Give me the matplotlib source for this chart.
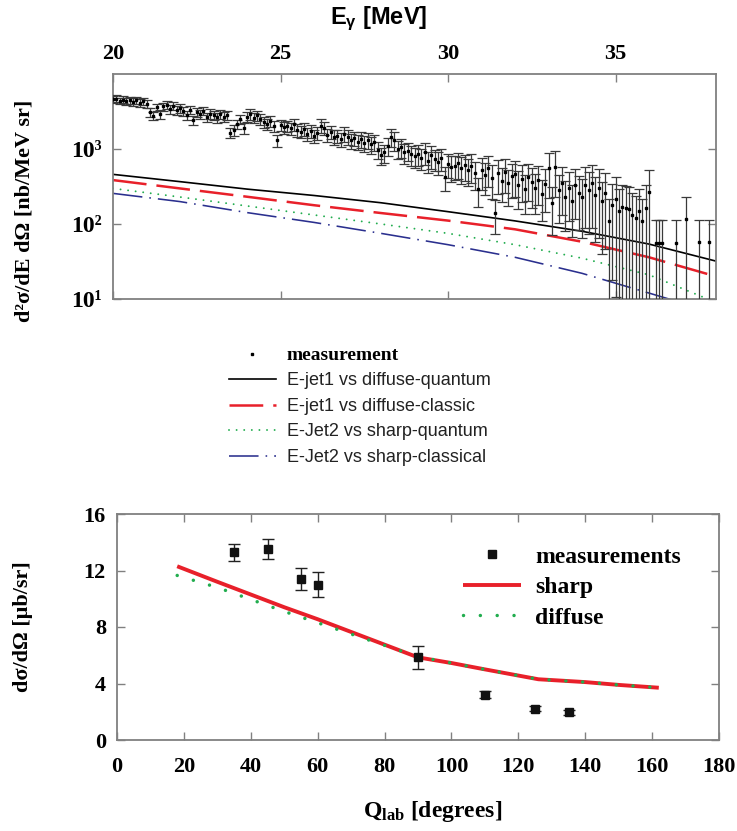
import matplotlib
matplotlib.use('Agg')
import matplotlib.pyplot as plt
from matplotlib.ticker import FixedLocator, NullLocator
from matplotlib.lines import Line2D

plt.rcParams['mathtext.fontset'] = 'custom'
plt.rcParams['mathtext.rm'] = 'Liberation Serif'
plt.rcParams['mathtext.bf'] = 'Liberation Serif:bold'
plt.rcParams['mathtext.it'] = 'Liberation Serif:italic'
plt.rcParams['mathtext.sf'] = 'Liberation Sans:bold'

SERIF = 'Liberation Serif'
SANS = 'Liberation Sans'

# ---------------- top panel data ----------------
energy = [
    20.0, 20.1, 20.2, 20.3, 20.4, 20.5, 20.6, 20.7, 20.8, 20.9,
    21.0, 21.1, 21.2, 21.3, 21.4, 21.5, 21.6, 21.7, 21.8, 21.9,
    22.0, 22.1, 22.2, 22.3, 22.4, 22.5, 22.6, 22.7, 22.8, 22.9,
    23.0, 23.1, 23.2, 23.3, 23.4, 23.5, 23.6, 23.7, 23.8, 23.9,
    24.0, 24.1, 24.2, 24.3, 24.4, 24.5, 24.6, 24.7, 24.8, 24.9,
    25.0, 25.1, 25.2, 25.3, 25.4, 25.5, 25.6, 25.7, 25.8, 25.9,
    26.0, 26.1, 26.2, 26.3, 26.4, 26.5, 26.6, 26.7, 26.8, 26.9,
    27.0, 27.1, 27.2, 27.3, 27.4, 27.5, 27.6, 27.7, 27.8, 27.9,
    28.0, 28.1, 28.2, 28.3, 28.4, 28.5, 28.6, 28.7, 28.8, 28.9,
    29.0, 29.1, 29.2, 29.3, 29.4, 29.5, 29.6, 29.7, 29.8, 29.9,
    30.0, 30.1, 30.2, 30.3, 30.4, 30.5, 30.6, 30.7, 30.8, 30.9,
    31.0, 31.1, 31.2, 31.3, 31.4, 31.5, 31.6, 31.7, 31.8, 31.9,
    32.0, 32.1, 32.2, 32.3, 32.4, 32.5, 32.6, 32.7, 32.8, 32.9,
    33.0, 33.1, 33.2, 33.3, 33.4, 33.5, 33.6, 33.7, 33.8, 33.9,
    34.0, 34.1, 34.2, 34.3, 34.4, 34.5, 34.6, 34.7, 34.8, 34.9,
    35.0, 35.1, 35.2, 35.3, 35.4, 35.5, 35.6, 35.7, 35.8, 35.9, 36.0,
    36.2, 36.3, 36.4, 36.8, 37.1, 37.5, 37.8]

xsec = [
    4600, 4700, 4400, 4550, 4300, 4500, 4250, 4450, 4150, 4350,
    4000, 3100, 2750, 3600, 2900, 3700, 3900, 3400, 3750, 3300,
    3500, 3200, 2800, 3350, 2450, 3100, 2900, 3250, 2650, 2950,
    2800, 2650, 2900, 2700, 2850, 1650, 1800, 2150, 2500, 1900,
    2700, 2900, 2600, 2800, 2500, 2300, 2150, 2350, 2050, 1300,
    2100, 1950, 2050, 1900, 2150, 1800, 1700, 1850, 1600, 1750,
    1500, 1650, 2050, 1900, 1550, 1700, 1450, 1500, 1350, 1600,
    1450, 1300, 1400, 1250, 1350, 1200, 1300, 1150, 1250, 980,
    820, 900, 1100, 1450, 1300, 1000, 1050, 900, 950, 850,
    800, 870, 760, 900, 700, 820, 740, 680, 760, 420,
    640, 580, 600, 650, 560, 610, 530, 600, 480, 290,
    520, 450, 560, 410, 140, 480, 380, 500, 350, 430,
    460, 330, 400, 290, 420, 360, 300, 390, 250, 340,
    560, 190, 580, 280, 350, 230, 300, 200, 330, 260,
    230, 330, 280, 350, 240, 300, 200, 260, 110, 180,
    215, 150, 170, 165, 160, 130, 120, 150, 110, 165, 270,
    56, 56, 56, 56, 115, 57, 57]

xsec_relerr = [
    0.10, 0.11, 0.10, 0.11, 0.10, 0.11, 0.12, 0.11, 0.12, 0.11,
    0.12, 0.13, 0.12, 0.12, 0.13, 0.12, 0.12, 0.13, 0.12, 0.13,
    0.13, 0.13, 0.14, 0.13, 0.14, 0.13, 0.14, 0.13, 0.14, 0.14,
    0.14, 0.15, 0.14, 0.15, 0.14, 0.16, 0.16, 0.15, 0.15, 0.16,
    0.15, 0.16, 0.15, 0.16, 0.16, 0.17, 0.16, 0.17, 0.17, 0.18,
    0.17, 0.18, 0.17, 0.18, 0.18, 0.19, 0.18, 0.19, 0.19, 0.20,
    0.20, 0.20, 0.21, 0.20, 0.21, 0.21, 0.22, 0.21, 0.22, 0.22,
    0.22, 0.23, 0.22, 0.23, 0.24, 0.23, 0.24, 0.25, 0.24, 0.26,
    0.26, 0.27, 0.26, 0.27, 0.28, 0.27, 0.28, 0.29, 0.28, 0.30,
    0.30, 0.31, 0.30, 0.32, 0.31, 0.33, 0.32, 0.34, 0.33, 0.35,
    0.36, 0.37, 0.36, 0.38, 0.39, 0.38, 0.40, 0.41, 0.40, 0.42,
    0.45, 0.46, 0.45, 0.47, 0.48, 0.47, 0.49, 0.48, 0.50, 0.49,
    0.50, 0.52, 0.51, 0.53, 0.52, 0.54, 0.55, 0.54, 0.56, 0.57,
    0.60, 0.62, 0.60, 0.63, 0.62, 0.65, 0.64, 0.66, 0.65, 0.68,
    0.72, 0.73, 0.74, 0.75, 0.76, 0.78, 0.80, 0.82, 0.95, 0.90,
    0.95, 0.96, 0.96, 0.97, 0.97, 0.98, 0.98, 0.98, 0.98, 0.98, 0.97,
    0.99, 0.99, 0.99, 0.99, 0.99, 0.99, 0.99]

theory_energy = [20, 22, 24, 26, 28, 30, 32, 34, 36, 38]
ejet1_diffuse_quantum = [459, 367, 292, 240, 192, 146, 110, 80, 54, 32]
ejet1_diffuse_classic = [385, 298, 231, 178, 140, 111, 85, 58, 36, 20]
ejet2_sharp_quantum = [298, 229, 174, 132, 100, 75, 53, 35, 21, 9]
ejet2_sharp_classical = [256, 199, 142, 105, 75, 53, 36, 22, 12, 6.5]

top_xticks = [20, 25, 30, 35]
top_yticks = [10, 100, 1000]
top_yticklabels = ['10¹', '10²', '10³']

# ---------------- bottom panel data ----------------
meas_angle = [35, 45, 55, 60, 90, 110, 125, 135]
meas_value = [13.3, 13.5, 11.4, 11.0, 5.85, 3.2, 2.2, 1.95]
meas_err = [0.6, 0.7, 0.8, 0.9, 0.8, 0.25, 0.18, 0.18]

curve_angle = [18, 30, 40, 50, 60, 70, 80, 90, 100, 110, 126, 140, 150, 162]
sharp_value = [12.3, 11.2, 10.3, 9.4, 8.55, 7.65, 6.75, 5.85, 5.45, 5.0, 4.3, 4.1, 3.9, 3.7]
diffuse_value = [11.65, 10.8, 9.95, 9.1, 8.3, 7.5, 6.7, 5.9, 5.45, 5.0, 4.3, 4.1, 3.9, 3.7]

bottom_xticks = [0, 20, 40, 60, 80, 100, 120, 140, 160, 180]
bottom_yticks = [0, 4, 8, 12, 16]

# ---------------- figure ----------------
W, H = 737, 831
fig = plt.figure(figsize=(W / 100, H / 100), dpi=100)

SPINE = '#808080'
RED = '#e8202a'
GREEN = '#22ad4f'
BLUE = '#2a2f8e'

ax1 = fig.add_axes([113 / W, 1 - 299 / H, 603 / W, 225 / H])
ax1.set_yscale('log')
ax1.set_xlim(20, 38)
ax1.set_ylim(10, 10000)

err_abs = [v * r for v, r in zip(xsec, xsec_relerr)]
ax1.errorbar(energy, xsec, yerr=err_abs, fmt='s', ms=2.0, mfc='black', mec='black',
             ecolor='#3a3a3a', elinewidth=0.9, capsize=3.6, capthick=0.9, zorder=3)

l1, = ax1.plot(theory_energy, ejet1_diffuse_quantum, color='black', lw=1.2)
l2, = ax1.plot(theory_energy, ejet1_diffuse_classic, color=RED, lw=1.8,
               linestyle=(0, (13.5, 4.0)))
l3, = ax1.plot(theory_energy, ejet2_sharp_quantum, color=GREEN, lw=1.4,
               linestyle=(0, (0.01, 3.9)), dash_capstyle='round')
l4, = ax1.plot(theory_energy, ejet2_sharp_classical, color=BLUE, lw=1.15,
               linestyle=(0, (18.5, 4.4, 1.0, 4.4)))

ax1.xaxis.set_major_locator(FixedLocator(top_xticks))
ax1.xaxis.set_minor_locator(NullLocator())
ax1.yaxis.set_major_locator(FixedLocator(top_yticks))
ax1.yaxis.set_minor_locator(NullLocator())
ax1.set_yticklabels(top_yticklabels)
ax1.tick_params(axis='x', which='both', direction='in', top=True, bottom=True,
                labeltop=True, labelbottom=False, length=6, width=1.0,
                color=SPINE, pad=7, labelsize=16)
ax1.tick_params(axis='y', which='both', direction='in', left=True, right=True,
                length=6, width=1.0, color=SPINE, pad=8, labelsize=17)
for lab in ax1.get_xticklabels() + ax1.get_yticklabels():
    lab.set_fontfamily(SERIF)
    lab.set_fontweight('bold')
for s in ax1.spines.values():
    s.set_color(SPINE)
    s.set_linewidth(1.3)

ax1.xaxis.set_label_position('top')
ax1.set_xlabel(r'$\mathsf{E_{\gamma}}$ [MeV]', fontfamily=SANS, fontweight='bold',
               fontsize=17)
ax1.xaxis.set_label_coords(0.44, 1.22)
ax1.set_ylabel('d²σ/dE dΩ [nb/MeV sr]', fontfamily=SERIF, fontweight='bold',
               fontsize=16)
ax1.yaxis.set_label_coords(-0.13, 0.39)

h0 = Line2D([], [], marker='s', ms=2.0, ls='none', color='black')
leg1 = ax1.legend([h0, l1, l2, l3, l4],
                  ['measurement', 'E-jet1 vs diffuse-quantum', 'E-jet1 vs diffuse-classic',
                   'E-Jet2 vs sharp-quantum', 'E-Jet2 vs sharp-classical'],
                  loc='upper left', bbox_to_anchor=(229 / W, 1 - 347 / H),
                  bbox_transform=fig.transFigure, frameon=False, fontsize=13,
                  handlelength=2.6, handletextpad=0.6, labelspacing=0.47,
                  borderpad=0, borderaxespad=0)
for i, t in enumerate(leg1.get_texts()):
    if i == 0:
        t.set_fontfamily(SERIF)
        t.set_fontweight('bold')
        t.set_fontsize(14)
    else:
        t.set_fontfamily(SANS)
        t.set_color('#222222')

# ---------------- bottom panel ----------------
ax2 = fig.add_axes([117 / W, 1 - 740 / H, 602 / W, 226 / H])
ax2.set_xlim(0, 180)
ax2.set_ylim(0, 16)

ls, = ax2.plot(curve_angle, sharp_value, color=RED, lw=2.8, solid_capstyle='butt', zorder=2)
ld, = ax2.plot(curve_angle, diffuse_value, color=GREEN, lw=2.5,
               linestyle=(0, (0.01, 4.84)), dash_capstyle='round', zorder=3)
em = ax2.errorbar(meas_angle, meas_value, yerr=meas_err, fmt='s', ms=6, color='#111111',
                  ecolor='#222222', elinewidth=1.0, capsize=4, capthick=1.0, zorder=4)

ax2.xaxis.set_major_locator(FixedLocator(bottom_xticks))
ax2.yaxis.set_major_locator(FixedLocator(bottom_yticks))
ax2.tick_params(axis='both', which='both', direction='in', top=True, right=True,
                length=6, width=1.0, color=SPINE, labelsize=16)
ax2.tick_params(axis='x', pad=12)
ax2.tick_params(axis='y', pad=8)
for lab in ax2.get_xticklabels() + ax2.get_yticklabels():
    lab.set_fontfamily(SERIF)
    lab.set_fontweight('bold')
for s in ax2.spines.values():
    s.set_color(SPINE)
    s.set_linewidth(1.3)

ax2.set_xlabel(r'$\mathbf{Q_{lab}}$ [degrees]', fontfamily=SERIF, fontweight='bold',
               fontsize=17)
ax2.xaxis.set_label_coords(0.525, -0.26)
ax2.set_ylabel('dσ/dΩ [μb/sr]', fontfamily=SERIF, fontweight='bold', fontsize=16)
ax2.yaxis.set_label_coords(-0.14, 0.5)

hm = Line2D([], [], marker='s', ms=6, ls='none', color='#111111')
leg2 = ax2.legend([hm, ls, ld], ['measurements', 'sharp', 'diffuse'],
                  loc='upper left', bbox_to_anchor=(463 / W, 1 - 546 / H),
                  bbox_transform=fig.transFigure, frameon=False,
                  handlelength=2.45, handletextpad=0.6, labelspacing=0.38,
                  borderpad=0, borderaxespad=0,
                  prop={'family': SERIF, 'weight': 'bold', 'size': 17})

fig.savefig('out.png', dpi=100)
